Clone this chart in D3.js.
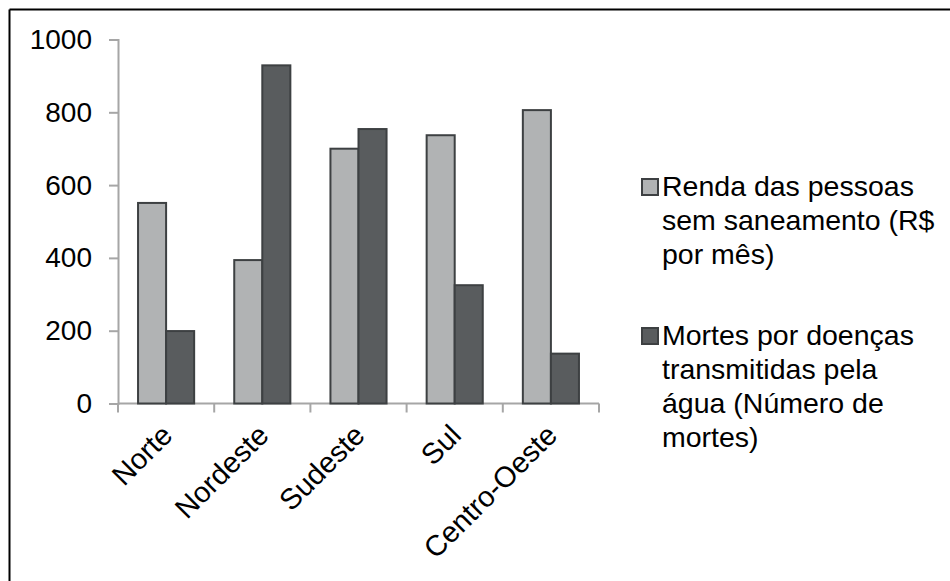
<!DOCTYPE html>
<html>
<head>
<meta charset="utf-8">
<script src="https://cdn.jsdelivr.net/npm/d3@7"></script>
<style>
  body { margin: 0; background: #fff; }
  text { font-family: "Liberation Sans", Arial, sans-serif; fill: #000; }
</style>
</head>
<body>
<div id="chart"></div>
<script>
// data
var regioes = ["Norte", "Nordeste", "Sudeste", "Sul", "Centro-Oeste"];
var renda = [551, 394, 700, 737, 806];
var mortes = [199, 929, 754, 325, 137];
var yTicks = [0, 200, 400, 600, 800, 1000];
var legenda = [
    ["Renda das pessoas", "sem saneamento (R$", "por mês)"],
    ["Mortes por doenças", "transmitidas pela", "água (Número de", "mortes)"]
];
var cores = ["#b1b3b4", "#595c5e"];

var svg = d3.select("#chart").append("svg")
    .attr("width", 950)
    .attr("height", 581);

// frame (only top and left edges show)
svg.append("line").attr("x1", 9.5).attr("y1", 9.5).attr("x2", 950).attr("y2", 9.5)
    .attr("stroke", "#000").attr("stroke-width", 2);
svg.append("line").attr("x1", 9.5).attr("y1", 9.5).attr("x2", 9.5).attr("y2", 581)
    .attr("stroke", "#000").attr("stroke-width", 2);

var x = d3.scaleBand()
    .domain(regioes)
    .range([118, 599])
    .paddingInner(0.4167)
    .paddingOuter(0.2083);

var xs = d3.scaleBand()
    .domain([0, 1])
    .range([0, x.bandwidth()]);

var y = d3.scaleLinear()
    .domain([0, 1000])
    .range([403.5, 39.5]);

// y axis
var yAxis = svg.append("g")
    .attr("transform", "translate(118,0)")
    .call(d3.axisLeft(y).tickValues(yTicks).tickFormat(d3.format("d")).tickSize(9).tickPadding(17));
yAxis.select(".domain").attr("stroke", "#a6a6a6").attr("stroke-width", 2);
yAxis.selectAll(".tick line").attr("stroke", "#a6a6a6").attr("stroke-width", 2);
yAxis.selectAll(".tick text")
    .style("font-size", "28px")
    .style("font-family", "Liberation Sans, Arial, sans-serif")
    .attr("fill", "#000");

// x axis line and boundary ticks
svg.append("line")
    .attr("x1", 118).attr("x2", 599)
    .attr("y1", y(0)).attr("y2", y(0))
    .attr("stroke", "#a6a6a6").attr("stroke-width", 2);

var fronteiras = regioes.map(function (d) { return x(d) - x.step() * x.paddingOuter(); });
fronteiras.push(599);
svg.selectAll(".xtick")
    .data(fronteiras)
    .enter().append("line")
    .attr("class", "xtick")
    .attr("x1", function (d) { return d; })
    .attr("x2", function (d) { return d; })
    .attr("y1", y(0))
    .attr("y2", y(0) + 9)
    .attr("stroke", "#a6a6a6").attr("stroke-width", 2);

// bars
var series = [renda, mortes];
series.forEach(function (vals, s) {
    svg.selectAll(".bar" + s)
        .data(vals)
        .enter().append("rect")
        .attr("class", "bar" + s)
        .attr("x", function (d, i) { return x(regioes[i]) + xs(s); })
        .attr("y", function (d) { return y(d); })
        .attr("width", xs.bandwidth())
        .attr("height", function (d) { return y(0) - y(d); })
        .attr("fill", cores[s])
        .attr("stroke", "#3d4042")
        .attr("stroke-width", 2);
});

// category labels
svg.selectAll(".xlabel")
    .data(regioes)
    .enter().append("text")
    .attr("class", "xlabel")
    .attr("text-anchor", "end")
    .attr("transform", function (d) {
        return "translate(" + (x(d) + x.bandwidth() / 2 + 8) + ",437) rotate(-45)";
    })
    .style("font-size", "29px")
    .text(function (d) { return d; });

// legend
var legTop = [179, 328];
legenda.forEach(function (linhas, s) {
    var g = svg.append("g");
    g.append("rect")
        .attr("x", 642).attr("y", legTop[s])
        .attr("width", 16).attr("height", 16)
        .attr("fill", cores[s])
        .attr("stroke", "#3d4042")
        .attr("stroke-width", 2);
    g.selectAll("text")
        .data(linhas)
        .enter().append("text")
        .attr("x", 662)
        .attr("y", function (d, i) { return legTop[s] + 17 + i * 34; })
        .style("font-size", "28.5px")
        .text(function (d) { return d; });
});
</script>
</body>
</html>
